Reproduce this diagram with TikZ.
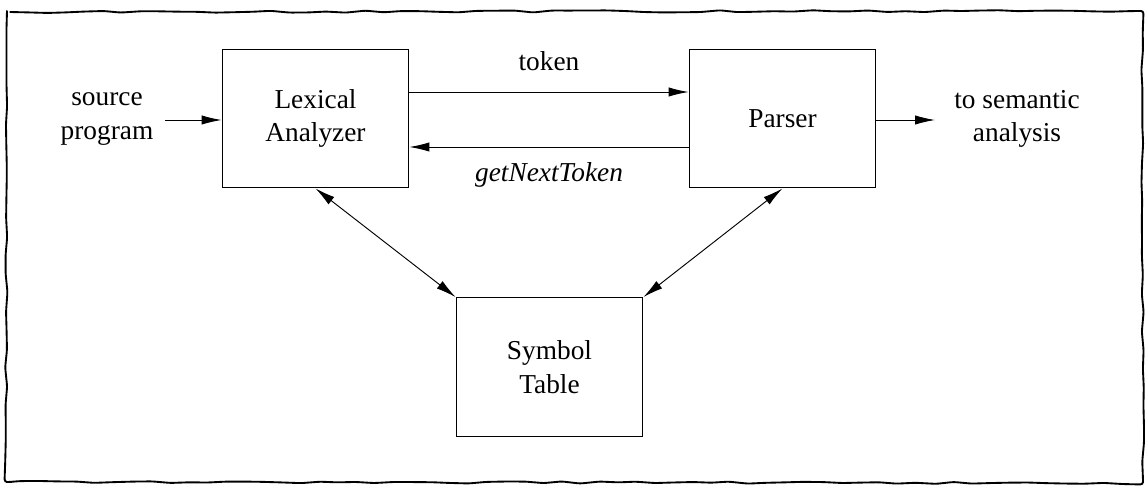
\documentclass[tikz,border=0pt]{standalone}
\usepackage{fontspec}
\setmainfont{Liberation Serif}
\newfontfamily\timesfont{Liberation Serif}
\usetikzlibrary{arrows.meta, calc, decorations.pathmorphing}

\tikzset{
	phase/.style={draw, line width=0.9pt, minimum width=140pt, minimum height=104pt, align=center, inner sep=0pt},
	flow/.style={-{Latex[length=15pt, width=7pt]}, line width=0.7pt},
	both/.style={{Latex[length=15pt, width=7pt]}-{Latex[length=15pt, width=7pt]}, line width=0.7pt},
	wavy/.style={decorate, decoration={random steps, segment length=14pt, amplitude=0.8pt}, line width=1.4pt, rounded corners=2pt}
}

\begin{document}
\begin{tikzpicture}[x=0.75pt, y=-0.75pt, font=\timesfont\fontsize{20.5}{25}\selectfont]
					\useasboundingbox (0, 0) rectangle (1148, 488);
					\draw[wavy] (7, 12) -- (1142, 11) -- (1143, 483) -- (6, 482) -- cycle;
					
					\node[phase] (lex) at (315.5, 118.5) {Lexical\\ Analyzer};
					\node[phase] (parser) at (782.5, 118.5) {Parser};
					\node[phase] (symtab) at (549.5, 367) {Symbol\\ Table};
					
					\node [align=center] (src) at (107, 119) {source\\ program};
					\node [align=center] (sem) at (1017, 119) {to semantic\\ analysis};
					\coordinate (srcend) at (165, 120);
					\coordinate (semend) at (935, 120);
					
					\draw[flow] (srcend) -- (lex.west |- srcend);
					\draw[flow] (parser.east |- semend) -- (semend);
					
					\draw[flow] (lex.east |- 0, 92) -- node [above=12pt] (tok) {token} (parser.west |- 0, 92);
					\draw[flow] (parser.west |- 0, 147) -- node [below=8pt] (gnt) {\itshape getNextToken} (lex.east |- 0, 147);
					
					\draw[both] (lex.south) -- (symtab.north west);
					\draw[both] (parser.south) -- (symtab.north east);
				\end{tikzpicture}
\end{document}
